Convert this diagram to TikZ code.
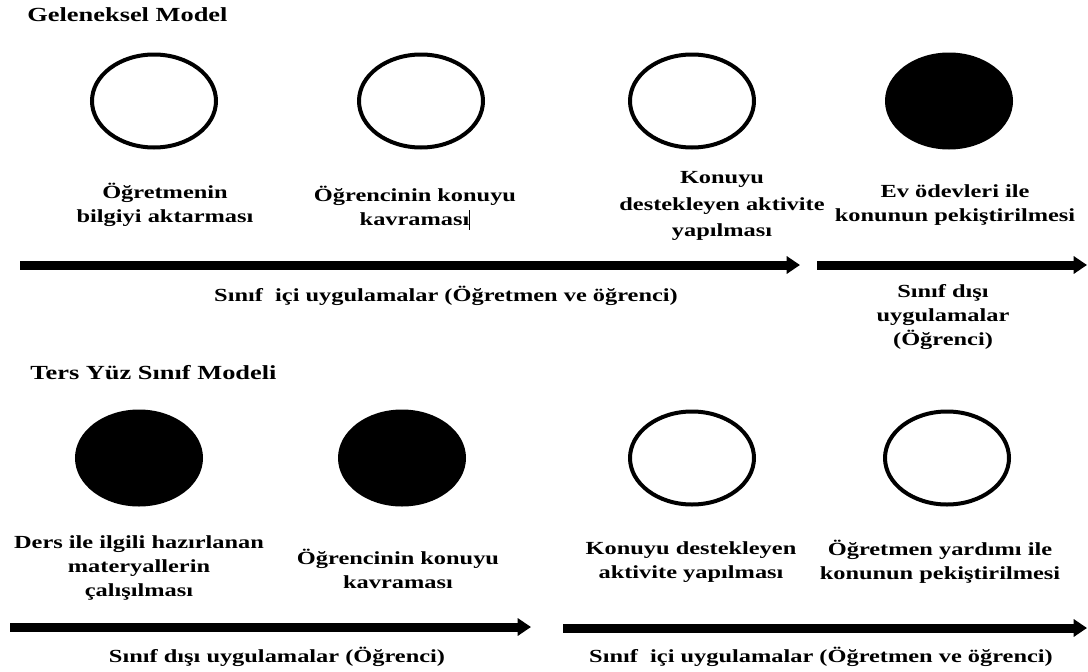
\documentclass[tikz,border=0pt]{standalone}
\usepackage{fontspec}
\setmainfont{Liberation Serif}
\usetikzlibrary{shapes.geometric,arrows.meta}
\tikzset{
  circ/.style={ellipse, draw=black, line width=3pt, minimum width=93pt, minimum height=69.75pt, inner sep=0pt},
  circfill/.style={circ, fill=black},
  lbl/.style={font=\bfseries\fontsize{13.85}{18}\selectfont, align=center, xscale=1.32, inner sep=0pt},
  ttl/.style={font=\bfseries\fontsize{15}{18}\selectfont, xscale=1.32, anchor=west, inner sep=0pt},
  flow/.style={line width=6.75pt, -{Triangle[length=10pt,width=12.75pt]}},
}
\begin{document}
\begin{tikzpicture}[x=0.75pt,y=-0.75pt]
\useasboundingbox (0,0) rectangle (1088,671);
% Top: Geleneksel Model
\node[ttl] (t1) at (27,15) {Geleneksel Model};
\node[circ] (c1) at (154,101) {};
\node[circ] (c2) at (421,101) {};
\node[circ] (c3) at (692,101) {};
\node[circfill] (c4) at (949,101) {};
\node[lbl] (a1) at (165,205) {Öğretmenin\\bilgiyi aktarması};
\node[lbl] (a2) at (415,208) {Öğrencinin konuyu\\kavraması\rule[-0.2em]{0.5pt}{1.05em}};
\node[lbl, font=\bfseries\fontsize{13.85}{19.8}\selectfont] (a3) at (722,206) {Konuyu\\destekleyen aktivite\\yapılması};
\node[lbl] (a4) at (955,205) {Ev ödevleri ile\\konunun pekiştirilmesi};
\coordinate (p1s) at (20,265);
\coordinate (p1e) at (800,265);
\coordinate (p2s) at (817,265);
\coordinate (p2e) at (1087,265);
\draw[flow] (p1s) -- (p1e);
\draw[flow] (p2s) -- (p2e);
\node[lbl] (b1) at (446,296) {Sınıf\ \ içi uygulamalar (Öğretmen ve öğrenci)};
\node[lbl] (b2) at (943,317) {Sınıf dışı\\uygulamalar\\(Öğrenci)};
% Bottom: Ters Yüz Sınıf Modeli
\node[ttl] (t2) at (30,373) {Ters Yüz Sınıf Modeli};
\node[circfill] (d1) at (139,458) {};
\node[circfill] (d2) at (402,458) {};
\node[circ] (d3) at (692,458) {};
\node[circ] (d4) at (947,458) {};
\node[lbl] (e1) at (139,568) {Ders ile ilgili hazırlanan\\materyallerin\\çalışılması};
\node[lbl] (e2) at (398,569) {Öğrencinin konuyu\\kavraması};
\node[lbl] (e3) at (691,562) {Konuyu destekleyen\\aktivite yapılması};
\node[lbl] (e4) at (940,562) {Öğretmen yardımı ile\\konunun pekiştirilmesi};
\coordinate (q1s) at (10,627);
\coordinate (q1e) at (531,627);
\coordinate (q2s) at (563,628);
\coordinate (q2e) at (1087,628);
\draw[flow] (q1s) -- (q1e);
\draw[flow] (q2s) -- (q2e);
\node[lbl] (f1) at (277,657) {Sınıf dışı uygulamalar (Öğrenci)};
\node[lbl] (f2) at (821,657) {Sınıf\ \ içi uygulamalar (Öğretmen ve öğrenci)};
\end{tikzpicture}
\end{document}
